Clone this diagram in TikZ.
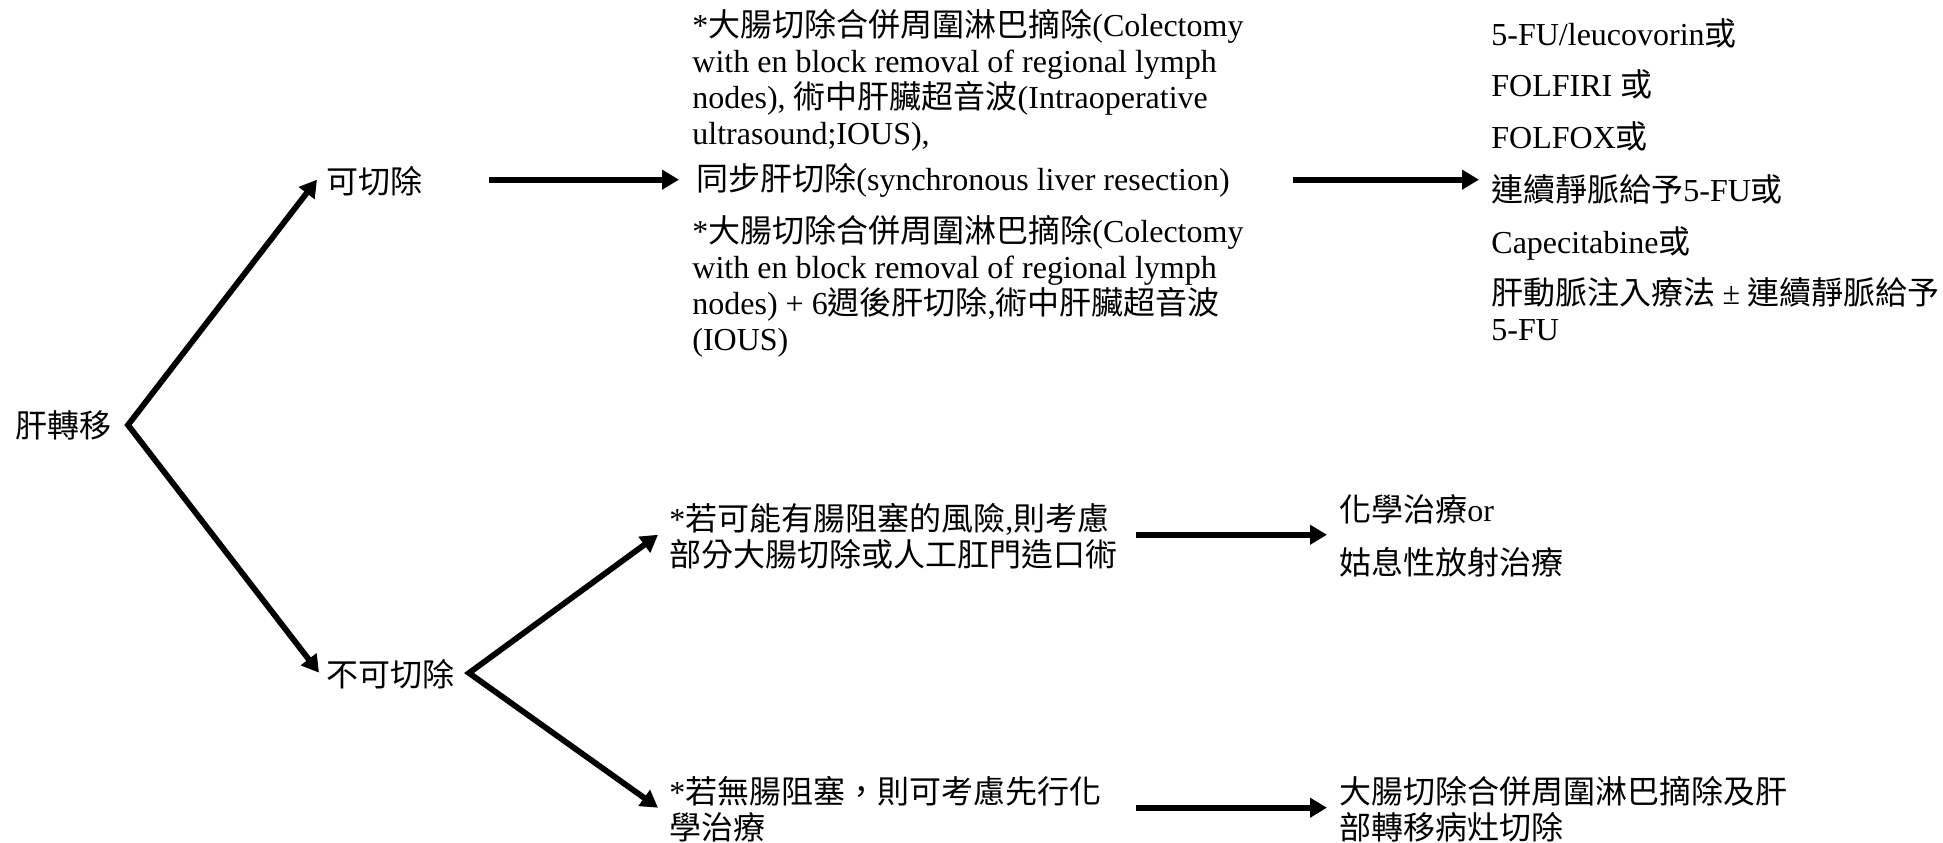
\documentclass[tikz,border=0pt]{standalone}
\usepackage{fontspec}
\setmainfont{Liberation Serif}
\newfontfamily\cjk{Noto Sans CJK TC}
\usetikzlibrary{arrows.meta}
\newcommand\zh[1]{{\cjk #1}}
\newcommand\fs{\rule{0pt}{15pt}}
\begin{document}
\begin{tikzpicture}[x=0.5pt,y=-0.5pt,
  txt/.style={anchor=north west, inner sep=0pt, align=left,
    font={\fontsize{16pt}{18pt}\selectfont\lineskiplimit=-100pt\relax}},
  arr/.style={line width=2.9pt, -{Triangle[length=8.5pt,width=9.5pt]}},
  dbl/.style={line width=2.9pt, line join=miter,
    {Triangle[length=8.5pt,width=9.5pt]}-{Triangle[length=8.5pt,width=9.5pt]}}]
\useasboundingbox (0,0) rectangle (1943,842);

% left part
\node[txt] (lv) at (15,407) {\fs\zh{肝轉移}};
\node[txt] (kq) at (326,163) {\fs\zh{可切除}};
\node[txt] (bkq) at (326,656) {\fs\zh{不可切除}};
\coordinate (v1) at (128,425);
\coordinate (v2) at (469,673);

% middle column (resectable)
\node[txt] (m1) at (692,6) {\fs *\zh{大腸切除合併周圍淋巴摘除}(Colectomy\\
with en block removal of regional lymph\\
nodes), \zh{術中肝臟超音波}(Intraoperative\\
ultrasound;IOUS),};
\node[txt] (m2) at (696,160) {\fs\zh{同步肝切除}(synchronous liver resection)};
\node[txt] (m3) at (692,212) {\fs *\zh{大腸切除合併周圍淋巴摘除}(Colectomy\\
with en block removal of regional lymph\\
nodes) + 6\zh{週後肝切除},\zh{術中肝臟超音波}\\
(IOUS)};

% right column
\node[txt] (r1) at (1491,15) {\fs 5-FU/leucovorin\zh{或}};
\node[txt] (r2) at (1491,66) {\fs FOLFIRI \zh{或}};
\node[txt] (r3) at (1491,118) {\fs FOLFOX\zh{或}};
\node[txt] (r4) at (1491,171) {\fs\zh{連續靜脈給予}5-FU\zh{或}};
\node[txt] (r5) at (1491,223) {\fs Capecitabine\zh{或}};
\node[txt] (r6) at (1491,274) {\fs\zh{肝動脈注入療法}\makebox[16pt]{±}\zh{連續靜脈給予}\\
5-FU};

% lower part (unresectable)
\node[txt] (lo1) at (669,500) {\fs *\zh{若可能有腸阻塞的風險},\zh{則考慮}\\
\zh{部分大腸切除或人工肛門造口術}};
\node[txt] (lo2) at (1339,491) {\fs\zh{化學治療}or};
\node[txt] (lo3) at (1339,544) {\fs\zh{姑息性放射治療}};
\node[txt] (lo4) at (669,773) {\fs *\zh{若無腸阻塞，則可考慮先行化}\\
\zh{學治療}};
\node[txt] (lo5) at (1339,773) {\fs\zh{大腸切除合併周圍淋巴摘除及肝}\\
\zh{部轉移病灶切除}};

% connectors
\draw[dbl] ([xshift=-4.5pt]kq.west) -- (v1) -- ([xshift=-3.5pt]bkq.west);
\draw[dbl] ([xshift=-5.5pt]lo1.west) -- (v2) -- ([xshift=-5.5pt]lo4.west);
\draw[arr] ([xshift=-103.5pt]kq.east -| m2.west) -- ([xshift=-8.5pt]kq.east -| m2.west);
\draw[arr] ([xshift=-99pt]kq.east -| r4.west) -- ([xshift=-6pt]kq.east -| r4.west);
\draw[arr] ([xshift=-101.5pt]lo1.east -| lo2.west) -- ([xshift=-6pt]lo1.east -| lo2.west);
\draw[arr] ([xshift=-101.5pt]lo4.east -| lo5.west) -- ([xshift=-6pt]lo4.east -| lo5.west);
\end{tikzpicture}
\end{document}
